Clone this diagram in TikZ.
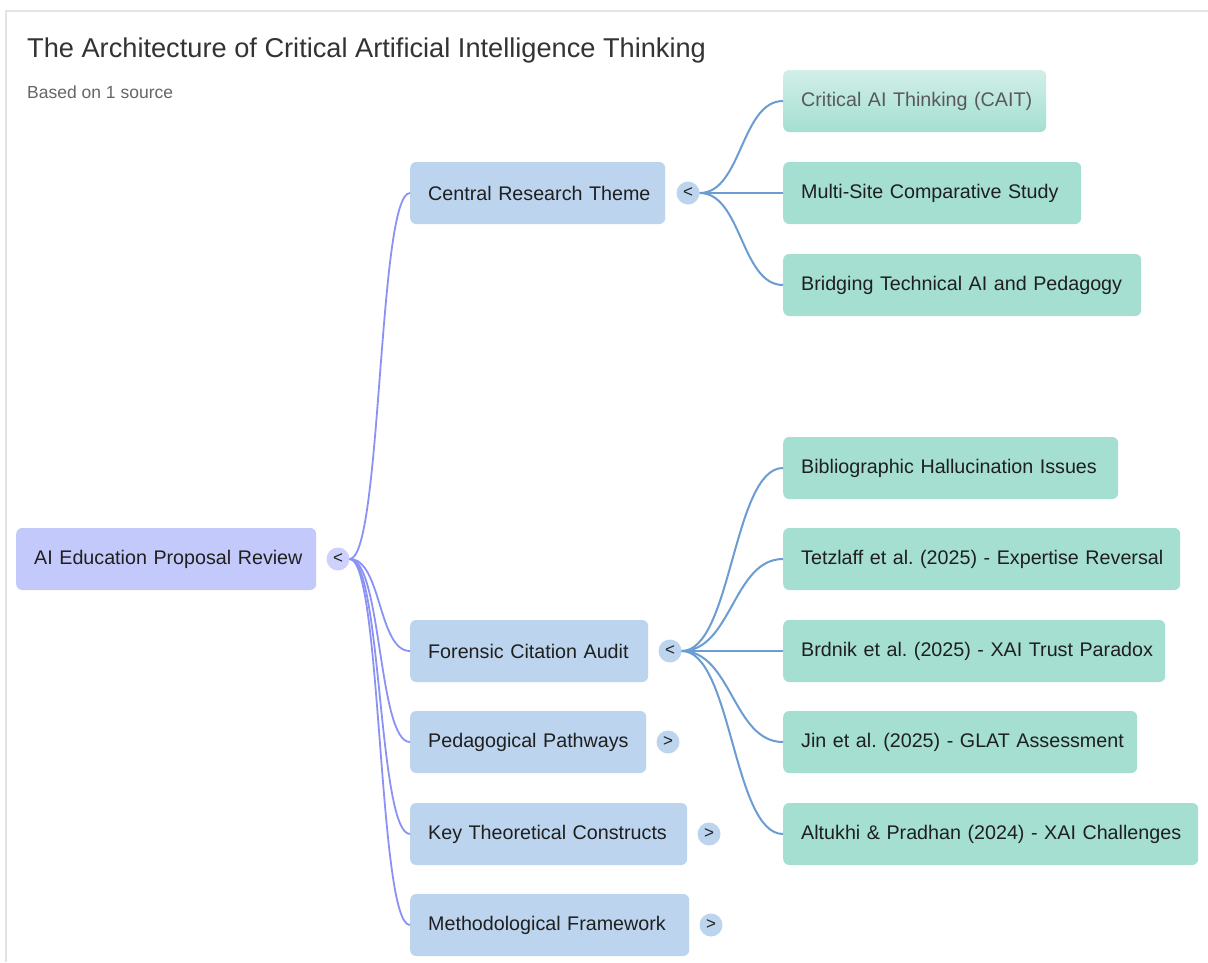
\documentclass[tikz,border=0pt]{standalone}
\usepackage{fontspec}
\setmainfont{Liberation Sans}
\frenchspacing
\definecolor{rootfill}{HTML}{C4C9FB}
\definecolor{rootbtn}{HTML}{CDD1FB}
\definecolor{lonefill}{HTML}{BCD4EE}
\definecolor{ltwofill}{HTML}{A4DFD1}
\definecolor{rootedge}{HTML}{8A93F3}
\definecolor{subedge}{HTML}{6B9CD2}
\definecolor{txt}{HTML}{1F1F1F}
\definecolor{frame}{HTML}{E4E4E4}
\begin{document}
\begin{tikzpicture}[x=1pt,y=-1pt,
  box/.style={anchor=west,rounded corners=6pt,minimum height=62pt,inner xsep=18pt,inner ysep=0pt,
    align=left,text=txt,font=\fontsize{19.7}{22}\selectfont},
  rootbox/.style={box,fill=rootfill},
  lonebox/.style={box,fill=lonefill},
  ltwobox/.style={box,fill=ltwofill},
  btn/.style={circle,minimum size=23pt,inner sep=0pt,text=txt,font=\fontsize{17}{17}\selectfont},
  rootlink/.style={draw=rootedge,line width=1.8pt},
  sublink/.style={draw=subedge,line width=2pt}]
\useasboundingbox (0,0) rectangle (1208,962);
\fill[white] (0,0) rectangle (1208,962);
\draw[frame,line width=2pt] (1208,11) -- (6,11) -- (6,962);
% title
\node[anchor=west,inner sep=0pt,text=black!80,font=\fontsize{27.2}{30}\selectfont] (title) at (27,50) {The Architecture of Critical Artificial Intelligence Thinking};
\node[anchor=west,inner sep=0pt,text=black!60,font=\fontsize{17.5}{19}\selectfont] (sub) at (27,92) {Based on 1 source};
% root
\node[rootbox,text width=264pt] (root) at (16,559) {\mbox{AI Education Proposal Review}};
\node[btn,fill=rootbtn] (rootb) at (338,559) {<};
% level 1
\node[lonebox,text width=219pt] (crt) at (410,193) {\mbox{Central Research Theme}};
\node[btn,fill=lonefill] (crtb) at (688,193) {<};
\node[lonebox,text width=202pt] (fca) at (410,651) {\mbox{Forensic Citation Audit}};
\node[btn,fill=lonefill] (fcab) at (670,651) {<};
\node[lonebox,text width=200pt] (pp) at (410,742) {\mbox{Pedagogical Pathways}};
\node[btn,fill=lonefill] (ppb) at (668,742) {>};
\node[lonebox,text width=241pt] (ktc) at (410,834) {\mbox{Key Theoretical Constructs}};
\node[btn,fill=lonefill] (ktcb) at (709,834) {>};
\node[lonebox,text width=243pt] (mf) at (410,925) {\mbox{Methodological Framework}};
\node[btn,fill=lonefill] (mfb) at (711,925) {>};
% level 2
\node[box,text width=227pt,top color=ltwofill!50,bottom color=ltwofill,text=black!65] (cait) at (783,101) {\mbox{Critical AI Thinking (CAIT)}};
\node[ltwobox,text width=262pt] (mscs) at (783,193) {\mbox{Multi-Site Comparative Study}};
\node[ltwobox,text width=322pt] (btap) at (783,285) {\mbox{Bridging Technical AI and Pedagogy}};
\node[ltwobox,text width=299pt] (bhi) at (783,468) {\mbox{Bibliographic Hallucination Issues}};
\node[ltwobox,text width=361pt] (tet) at (783,559) {\mbox{Tetzlaff et al. (2025) - Expertise Reversal}};
\node[ltwobox,text width=346pt] (brd) at (783,651) {\mbox{Brdnik et al. (2025) - XAI Trust Paradox}};
\node[ltwobox,text width=318pt] (jin) at (783,742) {\mbox{Jin et al. (2025) - GLAT Assessment}};
\node[ltwobox,text width=379pt] (alt) at (783,834) {\mbox{Altukhi \& Pradhan (2024) - XAI Challenges}};
% root links
\foreach \t in {crt,fca,pp,ktc,mf}{
  \draw[rootlink] (rootb.east) .. controls ([xshift=32pt]rootb.east) and ([xshift=-32pt]\t.west) .. (\t.west);
}
% sub links
\foreach \t in {cait,mscs,btap}{
  \draw[sublink] (crtb.east) .. controls ([xshift=42pt]crtb.east) and ([xshift=-42pt]\t.west) .. (\t.west);
}
\foreach \t in {bhi,tet,brd,jin,alt}{
  \draw[sublink] (fcab.east) .. controls ([xshift=50pt]fcab.east) and ([xshift=-50pt]\t.west) .. (\t.west);
}
\end{tikzpicture}
\end{document}
